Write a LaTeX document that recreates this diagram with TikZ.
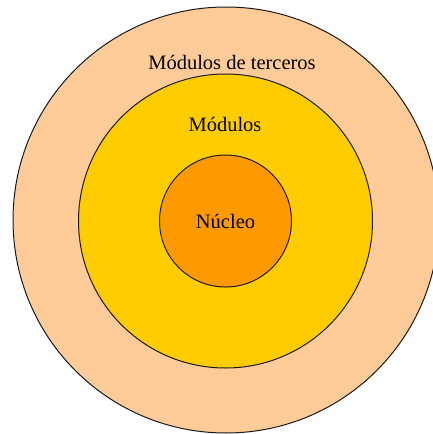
\documentclass[tikz,border=0pt]{standalone}
\usepackage{fontspec}
\setmainfont{Liberation Serif}
\definecolor{tercerosfill}{HTML}{FFCC99}
\definecolor{modulosfill}{HTML}{FFCC00}
\definecolor{nucleofill}{HTML}{FF9900}
\definecolor{ringink}{HTML}{1A1A1A}

\begin{document}
\begin{tikzpicture}[
  x=1pt,
  y=-1pt,
  every node/.style={font=\fontsize{20.5}{22}\selectfont, text=black},
  ring/.style={circle, draw=ringink, line width=1pt, inner sep=0pt}
]
  % ---- frame of the picture, same size as the reference ----------------
  \useasboundingbox[fill=white] (0,0) rectangle (432,434);

  % ---- the three rings, biggest first ------------------------------------
  \node[ring, fill=tercerosfill, minimum size=426pt] (terceros) at (226,220) {};
  \node[ring, fill=modulosfill, minimum size=294pt] (modulos) at (225.5,221) {};
  \node[ring, fill=nucleofill, minimum size=132pt] (nucleo) at (225.5,221) {};

  % ---- labels ------------------------------------------------------------
  \node (tercerostext) at (232,62) {Módulos de terceros};
  \node (modulostext) at (225,124) {Módulos};
  \node (nucleotext) at (nucleo.center) {Núcleo};

\end{tikzpicture}
\end{document}
